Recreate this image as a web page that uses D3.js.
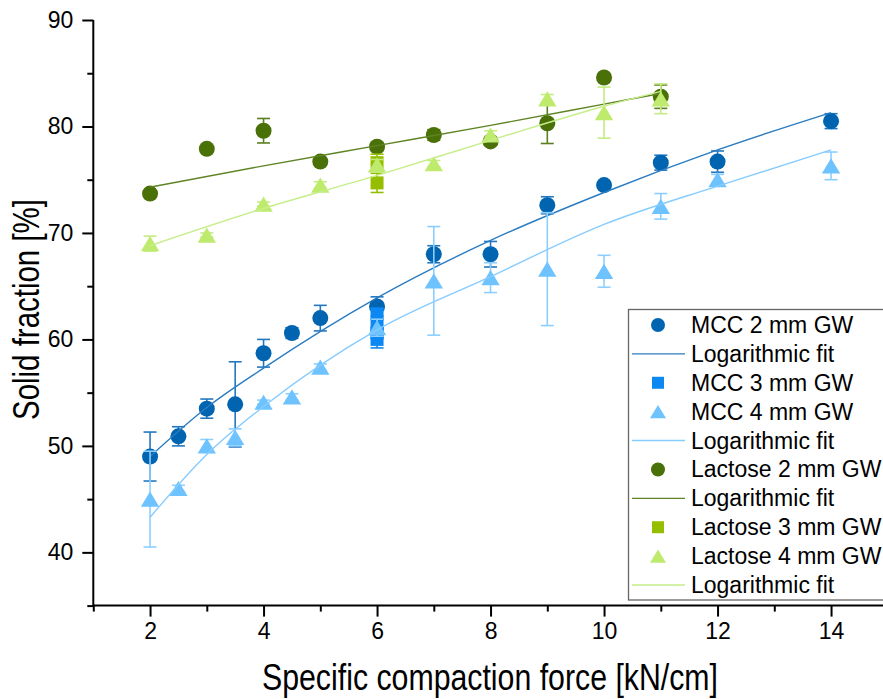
<!DOCTYPE html>
<html>
<head>
<meta charset="utf-8">
<script src="https://cdn.jsdelivr.net/npm/d3@7"></script>
<style>
  body { margin: 0; background: #fff; }
  text { font-family: Arial, "Liberation Sans", sans-serif; fill: #000; }
</style>
</head>
<body>
<div id="chart"></div>
<script>
// data

const mcc2X = [2, 2.5, 3, 3.5, 4, 4.5, 5, 6, 7, 8, 9, 10, 11, 12, 14];
const mcc2Y = [49.0, 50.9, 53.5, 53.9, 58.7, 60.6, 62.0, 63.1, 68.0, 68.0, 72.6, 74.5, 76.6, 76.7, 80.5];
const mcc2Err = [2.3, 0.9, 0.9, 4.0, 1.3, 0.5, 1.2, 0.9, 0.8, 1.2, 0.8, 0.3, 0.7, 1.0, 0.7];

const mcc3X = [6, 6, 6, 6];
const mcc3Y = [62.4, 61.4, 60.6, 60.0];
const mcc3Err = [0.5, 0.5, 0.5, 0.8];

const mcc4X = [2, 2.5, 3, 3.5, 4, 4.5, 5, 6, 7, 8, 9, 10, 11, 12, 14];
const mcc4Y = [45.0, 46.0, 50.0, 50.8, 54.1, 54.6, 57.4, 61.1, 65.5, 65.8, 66.6, 66.4, 72.5, 75.0, 76.3];
const mcc4Err = [4.5, 0.3, 0.6, 0.8, 0.2, 0.3, 0.3, 0.8, 5.1, 1.4, 5.3, 1.5, 1.2, 0.5, 1.3];

const lac2X = [2, 3, 4, 5, 6, 7, 8, 9, 10, 11];
const lac2Y = [73.7, 77.9, 79.6, 76.7, 78.1, 79.2, 78.6, 80.3, 84.6, 82.8];
const lac2Err = [0.2, 0.3, 1.15, 0.3, 0.4, 0.5, 0.3, 1.9, 0.3, 1.1];

const lac3X = [6, 6];
const lac3Y = [76.6, 74.7];
const lac3Err = [0.8, 0.9];

const lac4X = [2, 3, 4, 5, 6, 7, 8, 9, 10, 11];
const lac4Y = [69.0, 69.8, 72.7, 74.5, 76.4, 76.5, 79.2, 82.6, 81.3, 82.6];
const lac4Err = [0.7, 0.2, 0.2, 0.3, 0.5, 0.3, 0.4, 0.4, 2.4, 1.4];

// fit curves (read at a few x values)
const mcc2FitX = [2, 3, 4, 6, 8, 10, 12, 14];
const mcc2FitY = [49.0, 53.6, 57.3, 63.9, 69.3, 73.8, 77.8, 81.3];
const mcc4FitX = [2, 3, 4, 6, 8, 10, 12, 14];
const mcc4FitY = [43.3, 49.2, 53.7, 60.9, 65.9, 70.8, 74.4, 77.8];
const lac2FitX = [2, 4, 6, 8, 10, 11];
const lac2FitY = [74.3, 76.3, 78.2, 80.1, 82.1, 83.1];
const lac4FitX = [2, 4, 6, 8, 10, 11];
const lac4FitY = [68.8, 72.3, 75.4, 78.7, 81.9, 83.3];

const xTicks = [2, 4, 6, 8, 10, 12, 14];
const xMinor = [1, 3, 5, 7, 9, 11, 13, 15];
const yTicks = [40, 50, 60, 70, 80, 90];
const yMinor = [35, 45, 55, 65, 75, 85];

const legendNames = ['MCC 2 mm GW', 'Logarithmic fit', 'MCC 3 mm GW', 'MCC 4 mm GW', 'Logarithmic fit',
  'Lactose 2 mm GW', 'Logarithmic fit', 'Lactose 3 mm GW', 'Lactose 4 mm GW', 'Logarithmic fit'];

// size of the page
const WIDTH = 883;
const HEIGHT = 699;

const svg = d3.select('#chart')
  .append('svg')
  .attr('width', WIDTH)
  .attr('height', HEIGHT);

const x = d3.scaleLinear().domain([1, 15]).range([93.3, 887.8]);
const y = d3.scaleLinear().domain([35, 90]).range([605.6, 20]);

// colores
const C = {
  mcc2: '#0064b0', mcc2Bar: '#2277c0', mcc2Fit: '#2a7cc2',
  mcc3: '#0c88f2',
  mcc4: '#6ec3ff', mcc4Bar: '#8ccfff', mcc4Fit: '#86ccff',
  lac2: '#4a7008', lac2Bar: '#5a7f1e', lac2Fit: '#5e8424',
  lac3: '#96be00',
  lac4: '#beeb6e', lac4Bar: '#c4ec80', lac4Fit: '#c6ee8a'
};

const zip = (xs, ys, es) => xs.map((v, i) => ({ x: v, y: ys[i], e: es ? es[i] : 0 }));

// symbol paths centred on 0,0
function shape(type, s) {
  if (type === 'circle') return d3.symbol(d3.symbolCircle, Math.PI * s * s)();
  if (type === 'square') return `M${-s},${-s}h${2 * s}v${2 * s}h${-2 * s}Z`;
  // triangle, bounding box centred
  const w = s * 1.15, h = s * 0.95;
  return `M0,${-h}L${w},${h}L${-w},${h}Z`;
}

// ---- axes ----
const axes = svg.append('g').attr('id', 'axes');

axes.append('g')
  .attr('transform', `translate(0,${y(35)})`)
  .call(d3.axisBottom(x).tickValues(xTicks).tickSize(11).tickPadding(6).tickFormat(d3.format('d')))
  .call(g => g.select('.domain').remove())
  .call(g => g.selectAll('line').attr('stroke', '#000').attr('stroke-width', 2))
  .call(g => g.selectAll('text').attr('font-size', 23).attr('font-family', 'Arial, "Liberation Sans", sans-serif'));

axes.append('g')
  .attr('transform', `translate(0,${y(35)})`)
  .call(d3.axisBottom(x).tickValues(xMinor).tickSize(6).tickFormat(''))
  .call(g => g.select('.domain').remove())
  .call(g => g.selectAll('line').attr('stroke', '#000').attr('stroke-width', 2));

axes.append('g')
  .attr('transform', `translate(${x(1)},0)`)
  .call(d3.axisLeft(y).tickValues(yTicks).tickSize(11).tickPadding(9))
  .call(g => g.select('.domain').remove())
  .call(g => g.selectAll('line').attr('stroke', '#000').attr('stroke-width', 2))
  .call(g => g.selectAll('text').attr('font-size', 23).attr('font-family', 'Arial, "Liberation Sans", sans-serif'));

axes.append('g')
  .attr('transform', `translate(${x(1)},0)`)
  .call(d3.axisLeft(y).tickValues(yMinor).tickSize(6).tickFormat(''))
  .call(g => g.select('.domain').remove())
  .call(g => g.selectAll('line').attr('stroke', '#000').attr('stroke-width', 2));

// axis lines
axes.append('line')
  .attr('x1', x(1)).attr('x2', WIDTH)
  .attr('y1', y(35)).attr('y2', y(35))
  .attr('stroke', '#000').attr('stroke-width', 2);
axes.append('line')
  .attr('x1', x(1)).attr('x2', x(1))
  .attr('y1', y(35) + 1).attr('y2', y(90))
  .attr('stroke', '#000').attr('stroke-width', 2);

// axis titles (tall, condensed like the original)
svg.append('text')
  .attr('x', 262).attr('y', 690)
  .attr('font-size', 37)
  .attr('textLength', 456)
  .attr('lengthAdjust', 'spacingAndGlyphs')
  .text('Specific compaction force [kN/cm]');

svg.append('text')
  .attr('transform', 'translate(39,420) rotate(-90)')
  .attr('font-size', 37)
  .attr('textLength', 221)
  .attr('lengthAdjust', 'spacingAndGlyphs')
  .text('Solid fraction [%]');

// ---- plot ----
const plot = svg.append('g').attr('id', 'plot');
const line = d3.line().x(d => x(d.x)).y(d => y(d.y)).curve(d3.curveMonotoneX);

function drawFit(xs, ys, color) {
  plot.append('path')
    .datum(zip(xs, ys))
    .attr('d', line)
    .attr('fill', 'none')
    .attr('stroke', color)
    .attr('stroke-width', 1.4);
}

function drawSeries(xs, ys, es, type, fill, barColor) {
  const data = zip(xs, ys, es);
  const g = plot.append('g');
  const bars = g.selectAll('g.bar').data(data).join('g').attr('class', 'bar')
    .attr('stroke', barColor).attr('stroke-width', 1.6);
  bars.append('line')
    .attr('x1', d => x(d.x)).attr('x2', d => x(d.x))
    .attr('y1', d => y(d.y + d.e)).attr('y2', d => y(d.y - d.e));
  bars.append('line')
    .attr('x1', d => x(d.x) - 6.5).attr('x2', d => x(d.x) + 6.5)
    .attr('y1', d => y(d.y + d.e)).attr('y2', d => y(d.y + d.e));
  bars.append('line')
    .attr('x1', d => x(d.x) - 6.5).attr('x2', d => x(d.x) + 6.5)
    .attr('y1', d => y(d.y - d.e)).attr('y2', d => y(d.y - d.e));

  const size = type === 'circle' ? 8 : (type === 'square' ? 6.5 : 8);
  g.selectAll('path.pt').data(data).join('path').attr('class', 'pt')
    .attr('transform', d => `translate(${x(d.x)},${y(d.y)})`)
    .attr('d', shape(type, size))
    .attr('fill', fill);
}

drawSeries(mcc2X, mcc2Y, mcc2Err, 'circle', C.mcc2, C.mcc2Bar);
drawFit(mcc2FitX, mcc2FitY, C.mcc2Fit);
drawSeries(mcc3X, mcc3Y, mcc3Err, 'square', C.mcc3, C.mcc3);
drawSeries(mcc4X, mcc4Y, mcc4Err, 'triangle', C.mcc4, C.mcc4Bar);
drawFit(mcc4FitX, mcc4FitY, C.mcc4Fit);
drawSeries(lac2X, lac2Y, lac2Err, 'circle', C.lac2, C.lac2Bar);
drawFit(lac2FitX, lac2FitY, C.lac2Fit);
drawSeries(lac3X, lac3Y, lac3Err, 'square', C.lac3, C.lac3);
drawSeries(lac4X, lac4Y, lac4Err, 'triangle', C.lac4, C.lac4Bar);
drawFit(lac4FitX, lac4FitY, C.lac4Fit);

// ---- legend ----
const legendKeys = [
  { t: 'circle', c: C.mcc2 }, { t: 'line', c: C.mcc2Fit },
  { t: 'square', c: C.mcc3 }, { t: 'triangle', c: C.mcc4 }, { t: 'line', c: C.mcc4Fit },
  { t: 'circle', c: C.lac2 }, { t: 'line', c: C.lac2Fit },
  { t: 'square', c: C.lac3 }, { t: 'triangle', c: C.lac4 }, { t: 'line', c: C.lac4Fit }
];

const legend = svg.append('g').attr('id', 'legend');
legend.append('rect')
  .attr('x', 628.5).attr('y', 309.5)
  .attr('width', 300).attr('height', 290.5)
  .attr('fill', '#fff')
  .attr('stroke', '#666').attr('stroke-width', 1.3);

const rowY = d3.scalePoint().domain(d3.range(legendNames.length)).range([325, 585]);

const rows = legend.selectAll('g.row').data(legendNames).join('g')
  .attr('class', 'row')
  .attr('transform', (d, i) => `translate(0,${rowY(i)})`);

rows.each(function (d, i) {
  const k = legendKeys[i];
  const r = d3.select(this);
  if (k.t === 'line') {
    r.append('line').attr('x1', 632).attr('x2', 685).attr('y1', 0).attr('y2', 0)
      .attr('stroke', k.c).attr('stroke-width', 1.4);
  } else {
    const s = k.t === 'circle' ? 7 : (k.t === 'square' ? 6 : 7);
    r.append('path').attr('transform', 'translate(658,0)').attr('d', shape(k.t, s)).attr('fill', k.c);
  }
  r.append('text').attr('x', 691).attr('y', 8).attr('font-size', 23).text(d);
});
</script>
</body>
</html>
